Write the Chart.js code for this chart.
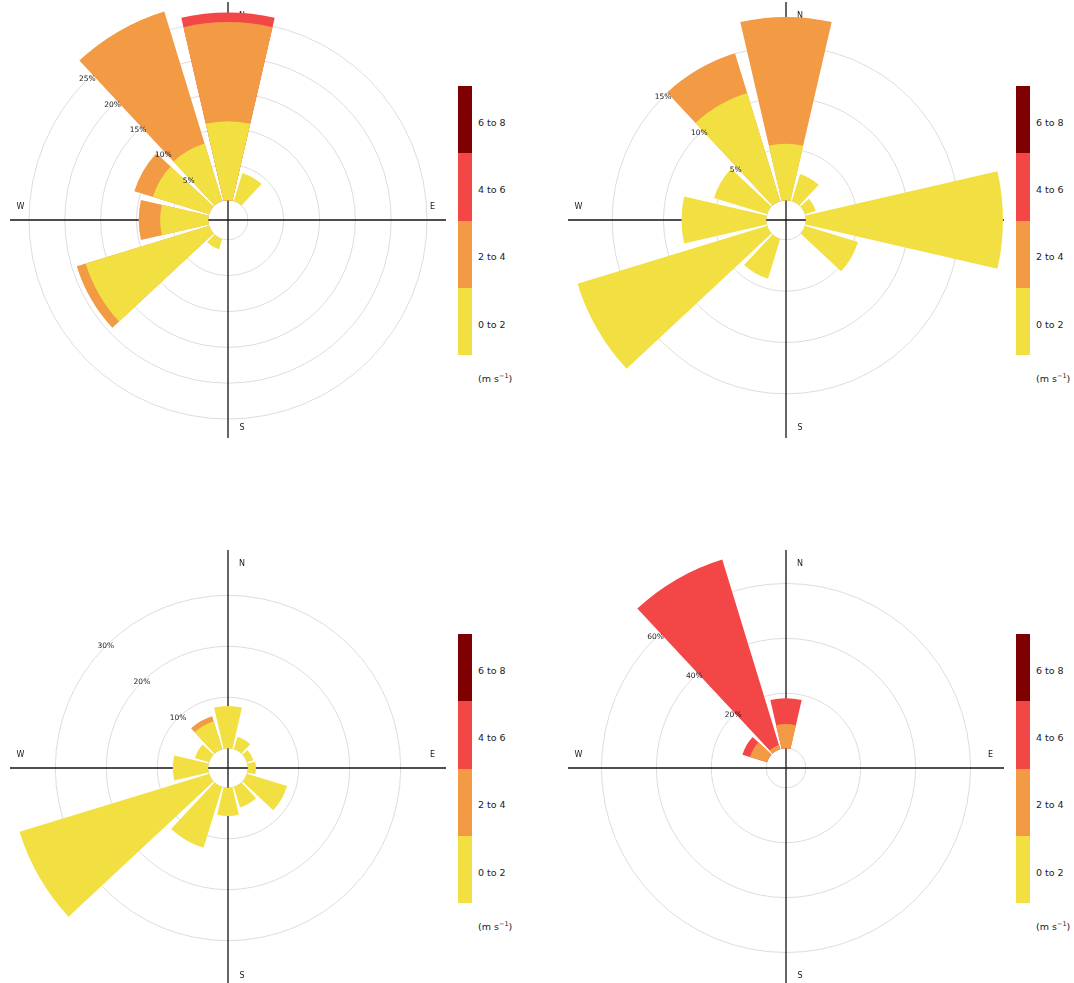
<!DOCTYPE html>
<html>
<head>
<meta charset="utf-8">
<title>Wind roses</title>
<script src="https://cdn.jsdelivr.net/npm/chart.js@4.4.1/dist/chart.umd.min.js"></script>
<style>
  html, body { margin: 0; padding: 0; background: #fff; width: 1074px; height: 983px; overflow: hidden; }
  canvas.rose { position: absolute; }
  .key { position: absolute; font-family: "DejaVu Sans", sans-serif; font-size: 9.5px; color: #222; }
  .key .seg { position: absolute; left: 0; width: 14px; }
  .key .lab { position: absolute; left: 20px; white-space: nowrap; transform: translateY(-50%); }
  .key sup { font-size: 6.5px; vertical-align: 0; position: relative; top: -4px; }
</style>
</head>
<body>
<canvas id="rose1" class="rose" width="460" height="460"></canvas>
<canvas id="rose2" class="rose" width="460" height="460"></canvas>
<canvas id="rose3" class="rose" width="460" height="460"></canvas>
<canvas id="rose4" class="rose" width="460" height="460"></canvas>
<script>
// Direction sectors (30 degree bins, clockwise from north)
const directions = ['N', 'NNE', 'ENE', 'E', 'ESE', 'SSE', 'S', 'SSW', 'WSW', 'W', 'WNW', 'NNW'];
// Wind speed classes, lowest first
const speedBins = ['0 to 2', '2 to 4', '4 to 6', '6 to 8'];
const binColours = ['#F2DF42', '#F29A44', '#F34647', '#7F0000'];

// Frequency (%) of each speed class per direction sector
const rose1_0to2 = [11.0, 4.1, 0, 0, 0, 0, 0, 1.5, 18.0, 6.7, 8.2, 8.4];
const rose1_2to4 = [13.85, 0, 0, 0, 0, 0, 0, 0, 1.3, 3.0, 2.7, 19.25];
const rose1_4to6 = [1.35, 0, 0, 0, 0, 0, 0, 0, 0, 0, 0, 0];
const rose1_6to8 = [0, 0, 0, 0, 0, 0, 0, 0, 0, 0, 0, 0];
const rose1Ticks = [5, 10, 15, 20, 25];

const rose2_0to2 = [5.5, 2.75, 1.1, 19.2, 5.4, 0, 0, 4.05, 19.3, 8.25, 5.4, 11.0];
const rose2_2to4 = [12.35, 0, 0, 0, 0, 0, 0, 0, 0, 0, 0, 4.05];
const rose2_4to6 = [0, 0, 0, 0, 0, 0, 0, 0, 0, 0, 0, 0];
const rose2_6to8 = [0, 0, 0, 0, 0, 0, 0, 0, 0, 0, 0, 0];
const rose2Ticks = [5, 10, 15];

const rose3_0to2 = [8.3, 2.5, 1.3, 1.6, 8.25, 4.2, 5.55, 12.5, 38.9, 6.95, 2.9, 5.7];
const rose3_2to4 = [0, 0, 0, 0, 0, 0, 0, 0, 0, 0, 0, 1.05];
const rose3_4to6 = [0, 0, 0, 0, 0, 0, 0, 0, 0, 0, 0, 0];
const rose3_6to8 = [0, 0, 0, 0, 0, 0, 0, 0, 0, 0, 0, 0];
const rose3Ticks = [10, 20, 30];

const rose4_0to2 = [0, 0, 0, 0, 0, 0, 0, 0, 0, 0, 0, 0];
const rose4_2to4 = [8.8, 0, 0, 0, 0, 0, 0, 0, 0, 0, 6.5, 1.5];
const rose4_4to6 = [9.4, 0, 0, 0, 0, 0, 0, 0, 0, 0, 2.9, 70.7];
const rose4_6to8 = [0, 0, 0, 0, 0, 0, 0, 0, 0, 0, 0, 0];
const rose4Ticks = [20, 40, 60];

// Wedge geometry: each 30 degree sector = bar + gap
const BAR_DEG = 26;
const GAP_DEG = 4;
const CANVAS = 460;
const PAD = 12;
const CLEAR = 'rgba(0,0,0,0)';

const panels = [
  { id: 'rose1', cx: 228, cy: 220, key: [458, 86], bins: [rose1_0to2, rose1_2to4, rose1_4to6, rose1_6to8], ticks: rose1Ticks },
  { id: 'rose2', cx: 786, cy: 220, key: [1016, 86], bins: [rose2_0to2, rose2_2to4, rose2_4to6, rose2_6to8], ticks: rose2Ticks },
  { id: 'rose3', cx: 228, cy: 768, key: [458, 634], bins: [rose3_0to2, rose3_2to4, rose3_4to6, rose3_6to8], ticks: rose3Ticks },
  { id: 'rose4', cx: 786, cy: 768, key: [1016, 634], bins: [rose4_0to2, rose4_2to4, rose4_4to6, rose4_6to8], ticks: rose4Ticks }
];

// Compass cross, hole cut-out, and percentage labels
const rosePlugin = {
  id: 'roseDecor',
  beforeDatasetsDraw(chart) {
    const s = chart.scales.r;
    const ctx = chart.ctx;
    const R = s.getDistanceFromCenterForValue(s.max);
    const x0 = s.xCenter, y0 = s.yCenter;
    ctx.save();
    ctx.strokeStyle = '#151515';
    ctx.lineWidth = 1.3;
    ctx.beginPath();
    ctx.moveTo(x0 - R, y0); ctx.lineTo(x0 + R, y0);
    ctx.moveTo(x0, y0 - R); ctx.lineTo(x0, y0 + R);
    ctx.stroke();
    ctx.fillStyle = '#1a1a1a';
    ctx.font = '8px "DejaVu Sans", sans-serif';
    ctx.textAlign = 'center';
    ctx.textBaseline = 'middle';
    const along = R * 0.952, side = 14;
    ctx.fillText('N', x0 + side, y0 - along + 3);
    ctx.fillText('S', x0 + side, y0 + along);
    ctx.fillText('E', x0 + along - 3, y0 - side + 0.5);
    ctx.fillText('W', x0 - along, y0 - side + 0.5);
    ctx.restore();
    // keep the centre hole free of wedges
    ctx.save();
    ctx.beginPath();
    ctx.rect(0, 0, chart.width, chart.height);
    ctx.arc(x0, y0, s.getDistanceFromCenterForValue(0), 0, Math.PI * 2, true);
    ctx.clip('evenodd');
  },
  afterDatasetsDraw(chart, args, opts) {
    const ctx = chart.ctx;
    ctx.restore();
    const s = chart.scales.r;
    ctx.save();
    ctx.fillStyle = '#1a1a1a';
    ctx.font = '7.5px "DejaVu Sans", sans-serif';
    ctx.textAlign = 'center';
    ctx.textBaseline = 'middle';
    const a = Math.SQRT1_2;
    opts.ticks.forEach(v => {
      const r = s.getDistanceFromCenterForValue(v);
      ctx.fillText(v + '%', s.xCenter - r * a, s.yCenter - r * a);
    });
    ctx.restore();
  }
};

function buildRose(p) {
  const totals = directions.map((_, i) => p.bins.reduce((sum, b) => sum + b[i], 0));
  const maxTotal = Math.max(...totals);
  // stacked wedges: cumulative frequency per class
  let run = directions.map(() => 0);
  const cumulative = p.bins.map(b => (run = run.map((v, i) => v + b[i])));
  const labels = directions.flatMap(d => [d, '']);
  const datasets = cumulative.map((c, k) => ({
    label: speedBins[k],
    data: c.flatMap(v => [v, 0]),
    // only paint a class where it has a share, so hidden layers leave no fringe
    backgroundColor: ctx => (ctx.dataIndex % 2 === 0 && p.bins[k][ctx.dataIndex / 2] > 0 ? binColours[k] : CLEAR),
    borderWidth: 0,
    angle: ctx => (ctx.dataIndex % 2 === 0 ? BAR_DEG : GAP_DEG)
  }));
  const canvas = document.getElementById(p.id);
  canvas.style.left = (p.cx - CANVAS / 2) + 'px';
  canvas.style.top = (p.cy - CANVAS / 2) + 'px';
  new Chart(canvas, {
    type: 'polarArea',
    data: { labels, datasets },
    options: {
      responsive: false,
      animation: false,
      layout: { padding: PAD },
      plugins: { legend: { display: false }, tooltip: { enabled: false }, roseDecor: { ticks: p.ticks } },
      scales: {
        r: {
          min: -0.1 * maxTotal,
          max: maxTotal,
          startAngle: -BAR_DEG / 2,
          ticks: { display: false },
          pointLabels: { display: false },
          angleLines: { display: false },
          grid: { circular: true, color: '#dddddd', lineWidth: 1 },
          afterBuildTicks: scale => { scale.ticks = [0, ...p.ticks].map(v => ({ value: v })); }
        }
      }
    },
    plugins: [rosePlugin]
  });
}

// Colour key for a panel
function buildKey(p) {
  const key = document.createElement('div');
  key.className = 'key';
  key.style.left = p.key[0] + 'px';
  key.style.top = p.key[1] + 'px';
  const segH = 67.3;
  const n = speedBins.length;
  for (let k = 0; k < n; k++) {
    const row = n - 1 - k;
    const seg = document.createElement('div');
    seg.className = 'seg';
    seg.style.top = (row * segH) + 'px';
    seg.style.height = segH + 'px';
    seg.style.background = binColours[k];
    key.appendChild(seg);
    const lab = document.createElement('div');
    lab.className = 'lab';
    lab.style.top = (row * segH + segH / 2 + 2) + 'px';
    lab.textContent = speedBins[k];
    key.appendChild(lab);
  }
  const unit = document.createElement('div');
  unit.className = 'lab';
  unit.style.top = (n * segH + 23) + 'px';
  unit.innerHTML = '(m s<sup>\u22121</sup>)';
  key.appendChild(unit);
  document.body.appendChild(key);
}

panels.forEach(p => { buildRose(p); buildKey(p); });
</script>
</body>
</html>
